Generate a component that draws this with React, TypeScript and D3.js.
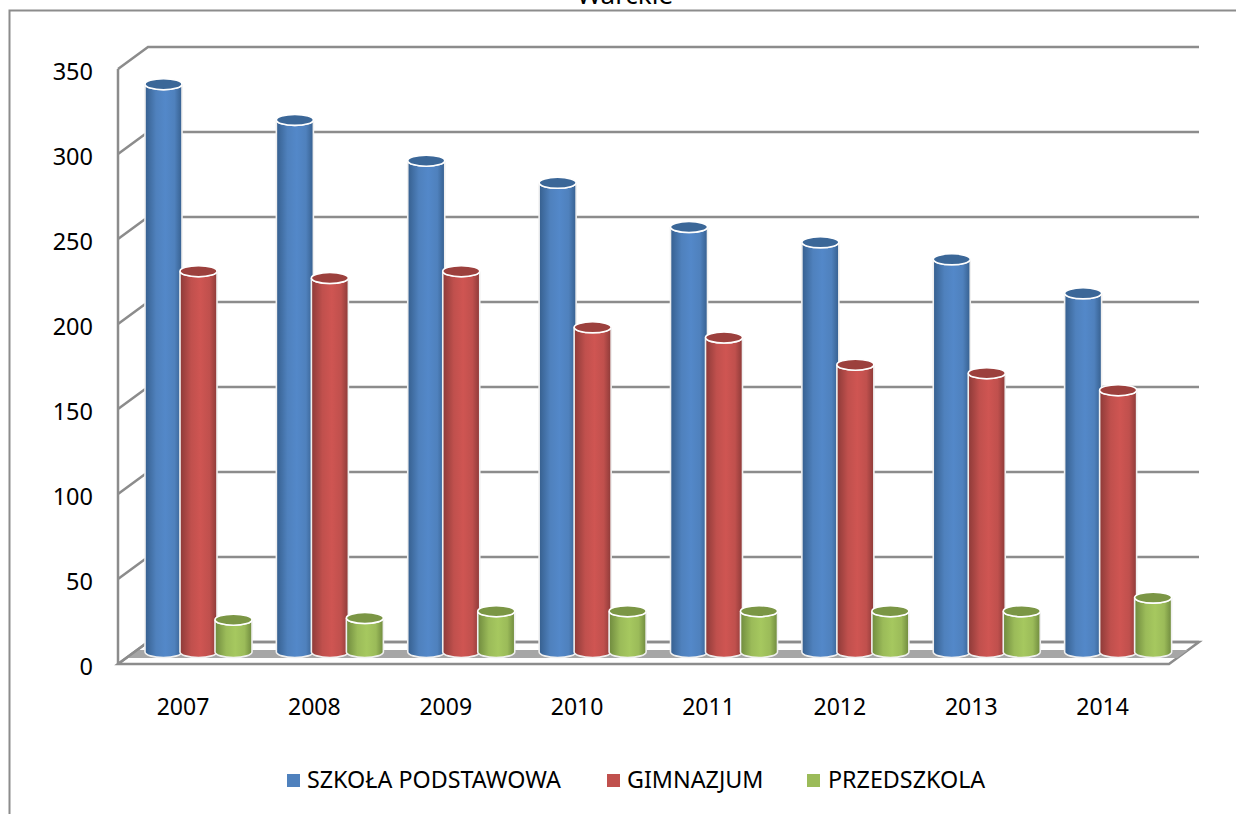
import React from 'react';
import * as d3 from 'd3';

const years = ['2007', '2008', '2009', '2010', '2011', '2012', '2013', '2014'];
const seriesNames = ['SZKOŁA PODSTAWOWA', 'GIMNAZJUM', 'PRZEDSZKOLA'];
const podstawowa = [334, 313, 289, 276, 250, 241, 231, 211];
const gimnazjum = [224, 220, 224, 191, 185, 169, 164, 154];
const przedszkola = [19, 20, 24, 24, 24, 24, 24, 32];
const yTicks = [0, 50, 100, 150, 200, 250, 300, 350];

const allValues = [podstawowa, gimnazjum, przedszkola];
const baseColors = ['#4f81bd', '#c0504d', '#9bbb59'];
const lightColors = ['#5388c9', '#cf5552', '#a6c85f'];
const darkColors = ['#365f8e', '#8c3a38', '#6f8a3e'];
const topColors = ['#3b6798', '#9c403d', '#7b9645'];

const FONT = '"Noto Sans", "Open Sans", sans-serif';
const GRID = '#8c8c8c';

// back wall is shifted against the front edge of the floor
const depthX = 30;
const depthY = -22;
const x0 = 118;
const x1 = 1169;
const yFront = d3.scaleLinear().domain([0, 350]).range([664, 69]);
const yBack = (v: number) => yFront(v) + depthY;
const yBar = (v: number) => yFront(v) - 12;

const xYear = d3.scaleBand().domain(years).range([x0, x1]);
const xSeries = d3.scalePoint().domain(['0', '1', '2']).range([27, 97]);

const barW = 37;
const ry = 5.5;

function cylinder(x: number, w: number, top: number, bottom: number) {
  const rx = w / 2;
  return `M${x},${top}L${x},${bottom}A${rx},${ry} 0 0 0 ${x + w},${bottom}L${x + w},${top}A${rx},${ry} 0 0 1 ${x},${top}Z`;
}

// x of the floor's side edges at a given height
const edgeShift = (y: number) => ((yFront(0) - y) / -depthY) * depthX;

export default function App() {
  const legendItems = [
    { sx: 287, tx: 307 },
    { sx: 607, tx: 627 },
    { sx: 807, tx: 828 },
  ];
  const bandTop = 650;
  const bandBottom = 658;
  return (
    <svg width={1236} height={814} style={{ position: 'absolute', left: 0, top: 0 }}>
      <defs>
        {baseColors.map((c, i) => (
          <linearGradient key={c} id={`cyl${i}`} x1="0" x2="1" y1="0" y2="0">
            <stop offset="0" stopColor={darkColors[i]} />
            <stop offset="0.3" stopColor={c} />
            <stop offset="0.55" stopColor={lightColors[i]} />
            <stop offset="0.8" stopColor={c} />
            <stop offset="1" stopColor={darkColors[i]} />
          </linearGradient>
        ))}
      </defs>

      <text x={625} y={4} textAnchor="middle" fontFamily={FONT} fontSize={26} fill="#000">Warckie</text>

      {/* outer chart frame, cut by the page edges */}
      <path d="M1236,10.5H9.5V814" fill="none" stroke="#8c8c8c" strokeWidth={2} />

      {/* floor: outline with a grey band inside */}
      <polygon
        points={`${x0},${yFront(0)} ${x0 + depthX},${yBack(0)} ${x1 + depthX},${yBack(0)} ${x1},${yFront(0)}`}
        fill="#fff"
        stroke={GRID}
        strokeWidth={2.5}
      />
      <polygon
        points={`${x0 + edgeShift(bandBottom)},${bandBottom} ${x0 + edgeShift(bandTop)},${bandTop} ${x1 + edgeShift(bandTop)},${bandTop} ${x1 + edgeShift(bandBottom)},${bandBottom}`}
        fill="#a6a6a6"
      />

      {/* left wall and gridlines */}
      <line x1={x0} x2={x0} y1={yFront(350)} y2={yFront(0)} stroke={GRID} strokeWidth={2.5} />
      {yTicks.map(t => (
        <path
          key={t}
          d={`M${x0},${yFront(t)}L${x0 + depthX},${yBack(t)}H${x1 + depthX}`}
          fill="none"
          stroke={GRID}
          strokeWidth={2.5}
        />
      ))}

      {/* bars */}
      {years.map((year, yi) =>
        allValues.map((vals, si) => {
          const x = (xYear(year) as number) + (xSeries(String(si)) as number);
          const top = yBar(vals[yi]);
          const bottom = yBar(0);
          return (
            <g key={`${year}-${si}`}>
              <path d={cylinder(x, barW, top, bottom)} fill={`url(#cyl${si})`} stroke="#f0f0f0" strokeWidth={1.6} />
              <ellipse cx={x + barW / 2} cy={top} rx={barW / 2} ry={ry} fill={topColors[si]} stroke="#fff" strokeWidth={1.6} />
            </g>
          );
        })
      )}

      {/* y labels */}
      {yTicks.map(t => (
        <text key={t} x={93} y={yFront(t) + 11} textAnchor="end" fontFamily={FONT} fontSize={23.5} fill="#000">{t}</text>
      ))}

      {/* x labels */}
      {years.map(year => (
        <text
          key={year}
          x={(xYear(year) as number) + 65}
          y={715}
          textAnchor="middle"
          fontFamily={FONT}
          fontSize={23}
          fill="#000"
        >
          {year}
        </text>
      ))}

      {/* legend */}
      {seriesNames.map((name, i) => (
        <g key={name}>
          <rect x={legendItems[i].sx} y={774} width={13} height={13} fill={baseColors[i]} />
          <text x={legendItems[i].tx} y={788} fontFamily={FONT} fontSize={23.3} fill="#000">{name}</text>
        </g>
      ))}
    </svg>
  );
}
